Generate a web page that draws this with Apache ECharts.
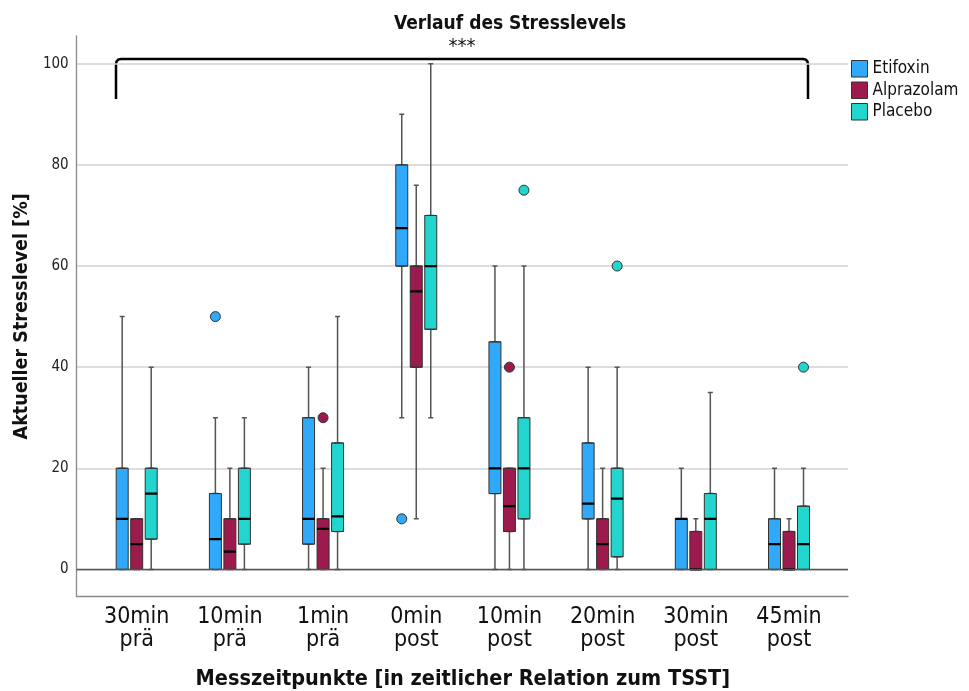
<!DOCTYPE html>
<html><head><meta charset="utf-8">
<script src="https://cdn.jsdelivr.net/npm/echarts@6/dist/echarts.min.js"></script>
<style>html,body{margin:0;padding:0;background:#fff}#c{width:969px;height:691px}</style>
</head><body><div id="c"></div>
<script>
// ---- data ----
const categories = ['30min\nprä','10min\nprä','1min\nprä','0min\npost','10min\npost','20min\npost','30min\npost','45min\npost'];
const yTicks = [0, 20, 40, 60, 80, 100];
const seriesNames = ['Etifoxin', 'Alprazolam', 'Placebo'];
// [min, Q1, median, Q3, max]
const etifoxin = [
  [0, 0, 10, 20, 50],
  [0, 0, 6, 15, 30],
  [0, 5, 10, 30, 40],
  [30, 60, 67.5, 80, 90],
  [0, 15, 20, 45, 60],
  [0, 10, 13, 25, 40],
  [0, 0, 10, 10, 20],
  [0, 0, 5, 10, 20]
];
const alprazolam = [
  [0, 0, 5, 10, 10],
  [0, 0, 3.5, 10, 20],
  [0, 0, 8, 10, 20],
  [10, 40, 55, 60, 76],
  [0, 7.5, 12.5, 20, 20],
  [0, 0, 5, 10, 20],
  [0, 0, 0, 7.5, 10],
  [0, 0, 0, 7.5, 10]
];
const placebo = [
  [0, 6, 15, 20, 40],
  [0, 5, 10, 20, 30],
  [0, 7.5, 10.5, 25, 50],
  [30, 47.5, 60, 70, 100],
  [0, 10, 20, 30, 60],
  [0, 2.5, 14, 20, 40],
  [0, 0, 10, 15, 35],
  [0, 0, 5, 12.5, 20]
];
// outliers: [category index, value]
const etifoxinOut = [[1, 50], [3, 10]];
const alprazolamOut = [[2, 30], [4, 40]];
const placeboOut = [[4, 75], [5, 60], [7, 40]];

// ---- styling / layout ----
const FONT = '"DejaVu Sans Condensed", "DejaVu Sans", sans-serif';
const colors = ['#30A9FB', '#9C1A4D', '#22D5CF'];
const stats = [etifoxin, alprazolam, placebo];
const outs = [etifoxinOut, alprazolamOut, placeboOut];
const plotTop = 36, plotBottom = 94.3, yMin = -5.4, yMax = 105.5;
const decoLeft = 76.7, decoRight = 121;
const bandLeft = 90.1, bandRight = 133.4, off = 14.5;

const grids = [{left: decoLeft, right: decoRight, top: plotTop, bottom: plotBottom,
  containLabel: false, outerBoundsMode: 'none'}];
const xAxes = [{
  type: 'category', gridIndex: 0, data: categories,
  axisLine: {show: true, onZero: false, lineStyle: {color: '#8a8a8a', width: 1.3}},
  axisTick: {show: false}, axisLabel: {show: false}, splitLine: {show: false}
}];
const yAxes = [{
  type: 'value', gridIndex: 0, min: yMin, max: yMax,
  name: 'Aktueller Stresslevel [%]', nameLocation: 'middle', nameGap: 45,
  nameTextStyle: {fontFamily: FONT, fontWeight: 'bold', fontSize: 19.5, color: '#111'},
  axisLine: {show: true, lineStyle: {color: '#8a8a8a', width: 1.3}},
  axisTick: {show: false, customValues: yTicks},
  axisLabel: {customValues: yTicks, margin: 8, fontFamily: FONT, fontSize: 15, color: '#222'},
  splitLine: {show: true, lineStyle: {color: '#d2d2d2', width: 1.5}}
}];
const series = [{
  type: 'line', xAxisIndex: 0, yAxisIndex: 0, data: [], silent: true,
  markLine: {silent: true, symbol: 'none', label: {show: false},
    lineStyle: {color: '#555', width: 1.3, type: 'solid'}, data: [{yAxis: 0}]}
}];

// one grid per drug and layer (whisker / box / median) so that every box is centred on its own offset
function addGrid(shift, withLabels) {
  grids.push({left: bandLeft + shift, right: bandRight - shift, top: plotTop, bottom: plotBottom,
    containLabel: false, outerBoundsMode: 'none'});
  const g = grids.length - 1;
  xAxes.push({
    type: 'category', gridIndex: g, data: categories, show: !!withLabels,
    axisLine: {show: false, onZero: false}, axisTick: {show: false}, splitLine: {show: false},
    axisLabel: {show: !!withLabels, margin: 9, fontFamily: FONT, fontSize: 23, lineHeight: 23, color: '#111'},
    name: withLabels ? 'Messzeitpunkte [in zeitlicher Relation zum TSST]' : '',
    nameLocation: 'middle', nameGap: 72,
    nameTextStyle: {fontFamily: FONT, fontWeight: 'bold', fontSize: 21.5, color: '#111'}
  });
  yAxes.push({type: 'value', gridIndex: g, min: yMin, max: yMax, show: false, splitLine: {show: false}});
  return g;
}

for (let i = 0; i < 3; i++) {
  const shift = (i - 1) * off;
  const s = stats[i];
  const gw = addGrid(shift, false);
  series.push({
    type: 'boxplot', name: seriesNames[i] + ' whisker', xAxisIndex: gw, yAxisIndex: gw,
    boxWidth: [5, 5], silent: true, data: s,
    itemStyle: {color: colors[i], borderColor: '#555', borderWidth: 1.5}
  });
  const gb = addGrid(shift, i === 1);
  series.push({
    type: 'boxplot', name: seriesNames[i], xAxisIndex: gb, yAxisIndex: gb,
    boxWidth: [12, 12], silent: true,
    data: s.map(d => [d[1], d[1], d[2], d[3], d[3]]),
    itemStyle: {color: colors[i], borderColor: '#333', borderWidth: 1}
  });
  series.push({
    type: 'scatter', name: seriesNames[i] + ' outlier', xAxisIndex: gb, yAxisIndex: gb,
    symbol: 'circle', symbolSize: 10, silent: true, data: outs[i], z: 5,
    itemStyle: {color: colors[i], borderColor: '#333', borderWidth: 1, opacity: 1}
  });
  const gm = addGrid(shift, false);
  series.push({
    type: 'boxplot', name: seriesNames[i] + ' median', xAxisIndex: gm, yAxisIndex: gm,
    boxWidth: [12, 12], silent: true,
    data: s.map(d => [d[2], d[2], d[2], d[2], d[2]]),
    itemStyle: {color: '#000', borderColor: '#000', borderWidth: 2.3}
  });
}

const chart = echarts.init(document.getElementById('c'), null, {renderer: 'canvas'});
chart.setOption({
  animation: false,
  backgroundColor: '#fff',
  title: {
    text: 'Verlauf des Stresslevels', left: 389, top: 10,
    textStyle: {fontFamily: FONT, fontWeight: 'bold', fontSize: 19, color: '#111'}
  },
  legend: {
    orient: 'vertical', left: 851, top: 60, padding: 0, itemWidth: 16, itemHeight: 16.5, itemGap: 4,
    textStyle: {fontFamily: FONT, fontSize: 17, color: '#111'},
    selectedMode: false,
    data: seriesNames.map((n, i) => ({name: n, icon: 'rect',
      itemStyle: {color: colors[i], borderColor: '#333', borderWidth: 1}}))
  },
  grid: grids, xAxis: xAxes, yAxis: yAxes, series: series,
  graphic: [
    {type: 'polyline', silent: true,
     shape: {points: [[116, 99], [116, 64], [116.6, 61.4], [118.2, 59.6], [121, 59],
                      [803, 59], [805.8, 59.6], [807.4, 61.4], [808, 64], [808, 99]]},
     style: {fill: 'none', stroke: '#000', lineWidth: 2.5}},
    {type: 'text', silent: true, x: 462, y: 47,
     style: {text: '***', fontFamily: FONT, fontSize: 20, fill: '#111', align: 'center', verticalAlign: 'middle'}}
  ]
});
</script></body></html>
